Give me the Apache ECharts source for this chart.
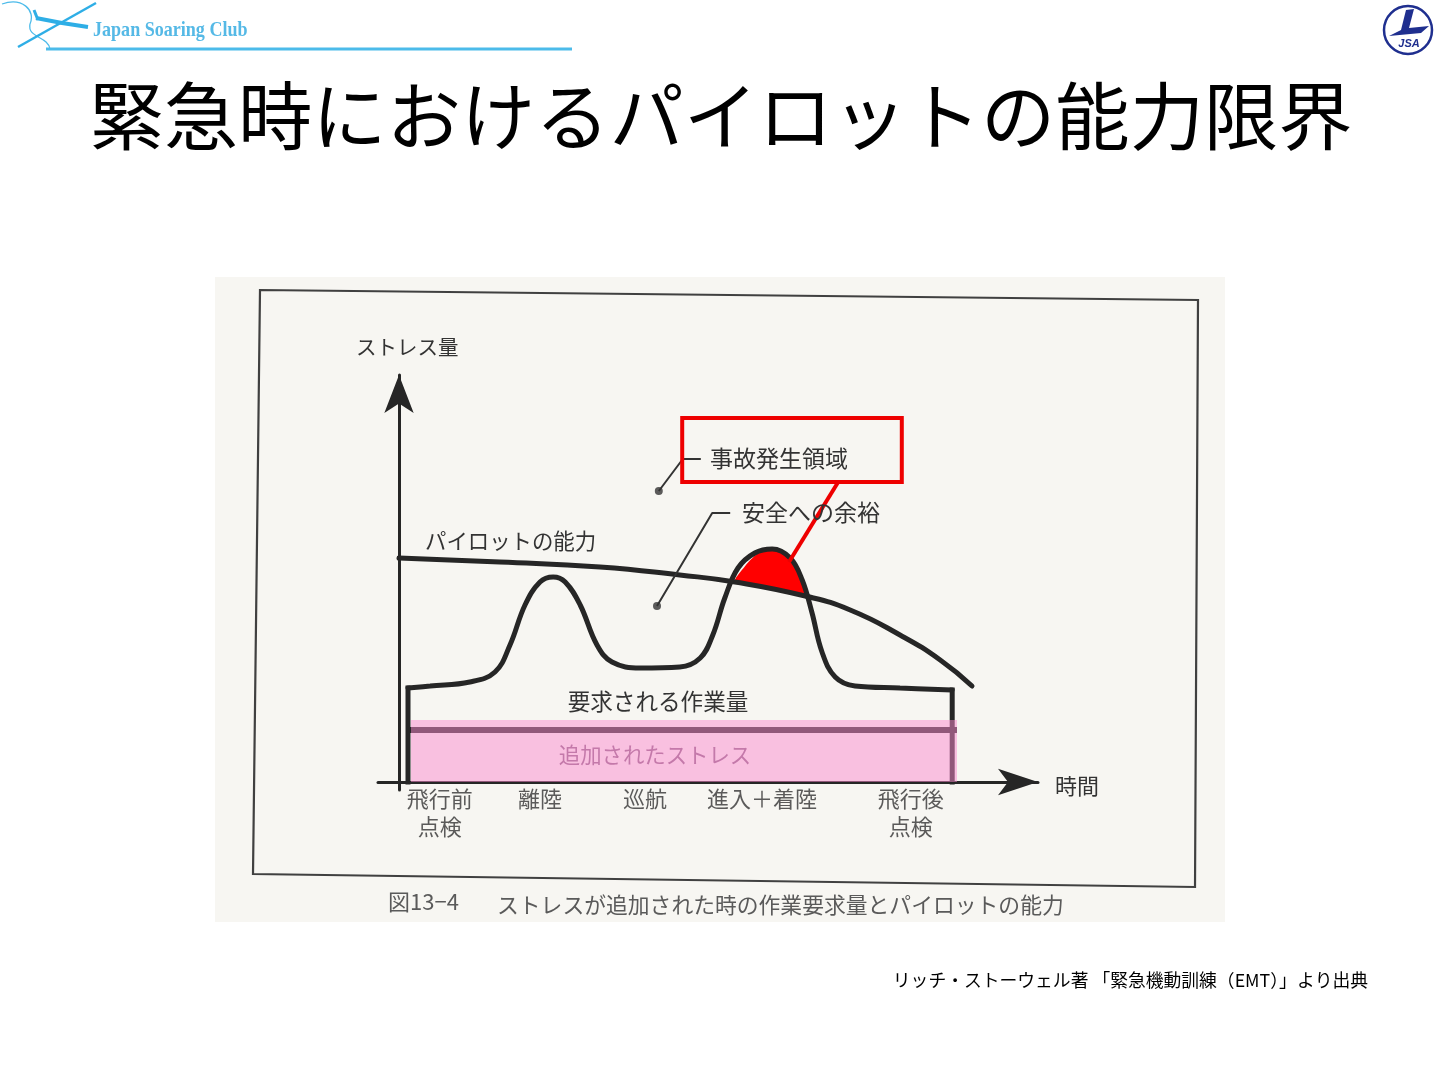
<!DOCTYPE html>
<html><head><meta charset="utf-8">
<style>html,body{margin:0;padding:0;background:#fff;}#c{width:1440px;height:1080px;}</style>
<script src="https://cdn.jsdelivr.net/npm/echarts@6/dist/echarts.min.js"></script>
</head><body><div id="c"></div>
<script>
// ---- data (time units along x, stress units along y) ----
const pilotCapability = [[0,56],[16.8,55],[33.5,53.75],[46.8,51.75],[56,50],[67.7,46.5],[75.2,43],[83.5,36.75],[90.2,30.5],[95.5,24]];
const demandCurve = [[1.5,23.5],[5.2,24],[11.8,25],[16,27.5],[18.5,34.25],[21,44.25],[23.5,50],[25.7,51.25],[27.7,50],[30.2,44.25],[33,34.25],[35.5,30],[40.2,28.5],[46.8,28.75],[50.2,31],[52.3,36.75],[54.3,46],[56.5,53.5],[59.3,57.25],[62.2,58.25],[65.2,56],[67.2,50.5],[68.8,42.5],[70.5,32.5],[72.7,26.25],[76,24],[83.5,23.5],[92.2,23]];
const demandStartEdge = [[1.5,0],[1.5,23.5]];
const demandEndEdge = [[92.2,23],[92.2,0]];
const excessTop = [[56,50],[57.7,54],[59.7,57],[62.2,58.25],[64.7,56.5],[66.3,53],[67.7,46.5]];
const excessBottom = [[62,48.3]];
const stressBandX = [2.0, 93];
const stressBandY = [0, 15.5];
const baseDemandLine = [[1.5,13],[93,13]];
const calloutDots = [[43.3,72.75],[43,44]];
const accidentLeader = [[43.3,72.75],[47.3,80.75],[50.3,80.75]];
const marginLeader = [[43,44],[52.2,67.25],[55.2,67.25]];
const accidentBox = [[47.2,91],[83.8,75]];
const accidentConnector = [[73.2,75],[65,55]];
const phaseLabels = ['飛行前\n点検','離陸','巡航','進入＋着陸','飛行後\n点検'];
const phaseX = [6.8, 23.5, 41, 60.5, 85.3];

const INK = '#262626';
const JP = '"Noto Sans CJK JP","Noto Sans CJK SC",sans-serif';

const chart = echarts.init(document.getElementById('c'), null, {renderer:'canvas'});

function lineSeries(data, opts) {
  return Object.assign({
    type:'line', data:data, symbol:'none', silent:true, z:3,
    lineStyle:{color:INK, width:5, cap:'square', join:'miter'}
  }, opts || {});
}

const txt = (text, x, y, size, extra) => ({
  type:'text', z:100, silent:true,
  style:Object.assign({text:text, x:x, y:y, fontSize:size, fontFamily:JP, fill:'#333',
    align:'left', verticalAlign:'middle'}, extra || {})
});

const option = {
  animation:false,
  backgroundColor:'#ffffff',
  grid:{left:378, top:375, width:660, height:415},
  xAxis:{type:'value', min:-3.5, max:106.5, splitLine:{show:false}, axisTick:{show:false}, axisLabel:{show:false},
    axisLine:{show:true, onZero:true, symbol:['none','arrow'], symbolSize:[20,40], lineStyle:{color:INK, width:3}}},
  yAxis:{type:'value', min:-2, max:101.75, splitLine:{show:false}, axisTick:{show:false}, axisLabel:{show:false},
    axisLine:{show:true, onZero:true, symbol:['none','arrow'], symbolSize:[22,38], lineStyle:{color:INK, width:3}}},
  graphic:[
    // scanned figure background & frame
    {type:'rect', z:-10, silent:true, shape:{x:215,y:277,width:1010,height:645}, style:{fill:'#f7f6f2'}},
    {type:'polygon', z:-9, silent:true, shape:{points:[[260,290],[1198,300],[1195,887],[253,874]]}, style:{fill:null, stroke:'#404040', lineWidth:2.2}},
    // header logo (left)
    {type:'line', z:1, silent:true, shape:{x1:46,y1:49,x2:572,y2:49}, style:{stroke:'#4cbbea', lineWidth:3}},
    {type:'bezierCurve', z:1, silent:true, shape:{x1:2,y1:4,cpx1:22,cpy1:-3,cpx2:36,cpy2:10,x2:30,y2:24}, style:{stroke:'#4cbbea', lineWidth:1.3, fill:null}},
    {type:'bezierCurve', z:1, silent:true, shape:{x1:30,y1:24,cpx1:27,cpy1:38,cpx2:48,cpy2:36,x2:50,y2:49}, style:{stroke:'#4cbbea', lineWidth:1.3, fill:null}},
    {type:'polyline', z:1, silent:true, shape:{points:[[18,47],[96,3]]}, style:{stroke:'#2eaee6', lineWidth:2.5}},
    {type:'polyline', z:1, silent:true, shape:{points:[[36,18],[62,23],[88,27]]}, style:{stroke:'#2eaee6', lineWidth:4}},
    {type:'polyline', z:1, silent:true, shape:{points:[[34,10],[38,20]]}, style:{stroke:'#2eaee6', lineWidth:3}},
    {type:'text', z:2, silent:true, style:{text:'Japan Soaring Club', x:93, y:31, fontSize:21, fontWeight:'bold', fontFamily:'"Liberation Serif",serif', fill:'#55b9e6', align:'left', verticalAlign:'middle'}, scaleX:0.86, originX:93},
    // header logo (right)
    {type:'circle', z:1, silent:true, shape:{cx:1408,cy:30,r:24}, style:{fill:'#fff', stroke:'#1f2f8f', lineWidth:2.5}},
    {type:'polygon', z:2, silent:true, shape:{points:[[1406,10],[1414,9],[1409,28],[1429,26],[1421,33],[1389,36],[1401,30]]}, style:{fill:'#1f2f8f'}},
    {type:'text', z:2, silent:true, style:{text:'JSA', x:1409, y:44, fontSize:11, fontWeight:'bold', fontStyle:'italic', fontFamily:'"Liberation Sans",sans-serif', fill:'#1f2f8f', align:'center', verticalAlign:'middle'}},
    // slide title
    txt('緊急時におけるパイロットの能力限界', 721, 116, 74.3, {align:'center', fill:'#000'}),
    // chart annotations
    txt('ストレス量', 356, 347, 20.5),
    txt('時間', 1055, 786, 22),
    txt('パイロットの能力', 425, 541, 21.4),
    txt('要求される作業量', 658, 701, 22.6, {align:'center'}),
    txt('事故発生領域', 710, 458, 23),
    txt('安全への余裕', 742, 512, 23),
    txt('追加されたストレス', 655, 755, 21.4, {align:'center', fill:'#c479aa'}),
    // caption & source
    txt('図13−4', 388, 902, 22, {fill:'#5a5a5a'}),
    txt('ストレスが追加された時の作業要求量とパイロットの能力', 497, 905, 21.8, {fill:'#5a5a5a'}),
    txt('リッチ・ストーウェル著 「緊急機動訓練（EMT）」より出典', 1368, 980, 17.8, {align:'right', fill:'#000'})
  ],
  series:[
    // accident area (demand above capability)
    {type:'custom', z:1, silent:true, data:[[0,0]],
      renderItem:function(params, api){
        const pts = excessTop.concat(excessBottom).map(p => api.coord(p));
        return {type:'polygon', shape:{points:pts, smooth:0.25}, style:{fill:'#ff0000'}};
      }},
    lineSeries(baseDemandLine, {lineStyle:{color:INK, width:6, cap:'butt'}}),
    lineSeries(pilotCapability, {smooth:0.5, lineStyle:{color:INK, width:5, cap:'round'}}),
    lineSeries(demandCurve, {smooth:0.4, lineStyle:{color:INK, width:5, cap:'round'}}),
    lineSeries(demandStartEdge),
    lineSeries(demandEndEdge),
    // leader lines & dots
    lineSeries(accidentLeader, {lineStyle:{color:'#333', width:2}}),
    lineSeries(marginLeader, {lineStyle:{color:'#333', width:2}}),
    {type:'scatter', z:4, silent:true, data:calloutDots, symbolSize:8, itemStyle:{color:'#333'}},
    // added stress band (translucent overlay)
    {type:'custom', z:5, silent:true, data:[[0,0]],
      renderItem:function(params, api){
        const a = api.coord([stressBandX[0], stressBandY[1]]);
        const b = api.coord([stressBandX[1], stressBandY[0]]);
        return {type:'rect', shape:{x:a[0], y:a[1], width:b[0]-a[0], height:b[1]-a[1]}, style:{fill:'rgba(251,137,205,0.5)'}};
      }},
    // accident region callout box
    {type:'custom', z:6, silent:true, data:[[0,0]],
      renderItem:function(params, api){
        const a = api.coord(accidentBox[0]);
        const b = api.coord(accidentBox[1]);
        return {type:'rect', shape:{x:a[0], y:a[1], width:b[0]-a[0], height:b[1]-a[1]}, style:{fill:null, stroke:'#ee0000', lineWidth:4}};
      }},
    lineSeries(accidentConnector, {z:6, lineStyle:{color:'#ee0000', width:4, cap:'butt'}}),
    // phase labels under the time axis
    {type:'scatter', z:4, silent:true, clip:false, symbolSize:0,
      data:phaseLabels.map((n,i) => ({name:n, value:[phaseX[i], -0.6]})),
      label:{show:true, position:'inside', formatter:p => p.name, verticalAlign:'top', align:'center',
        fontSize:22, lineHeight:28, fontFamily:JP, color:'#333'}}
  ]
};
chart.setOption(option);
</script>
</body></html>
